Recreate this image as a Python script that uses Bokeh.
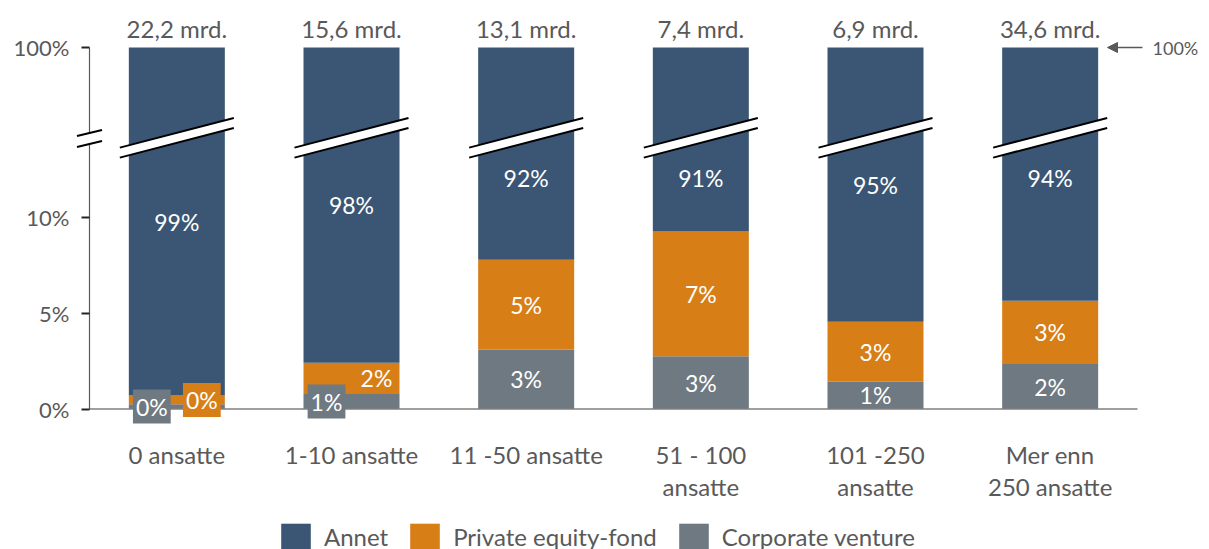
from bokeh.plotting import figure
from bokeh.models import (ColumnDataSource, FixedTicker, Legend, LegendItem, LinearAxis,
                          Arrow, NormalHead, Label, PolyAnnotation, Range1d)
from bokeh.core.properties import value
from bokeh.embed import file_html
from bokeh.resources import INLINE

# ---------------- data ----------------
categories = ["0 ansatte", "1-10 ansatte", "11 -50 ansatte",
              "51 - 100 ansatte", "101 -250 ansatte", "Mer enn 250 ansatte"]
category_labels = ["0 ansatte", "1-10 ansatte", "11 -50 ansatte",
                   "51 - 100\nansatte", "101 -250\nansatte", "Mer enn\n250 ansatte"]
totals = ["22,2 mrd.", "15,6 mrd.", "13,1 mrd.", "7,4 mrd.", "6,9 mrd.", "34,6 mrd."]
corporate_venture = [0.25, 0.78, 3.10, 2.75, 1.42, 2.34]   # % of total
private_equity = [0.45, 1.63, 4.67, 6.50, 3.13, 3.30]      # % of total
annet = [99.30, 97.59, 92.23, 90.75, 95.45, 94.36]          # % of total
series_names = ["Annet", "Private equity-fond", "Corporate venture"]
y_ticks = [0, 5, 10, 100]
y_tick_labels = ["0%", "5%", "10%", "100%"]

# ---------------- style / layout ----------------
W, H = 1209, 549
AXIS_X_PX, PLOT_R_PX = 89, 1137
Y0_PX, TOP_PX, PX_PER_UNIT = 408.5, 47.0, 19.2
n = len(categories)
CAT_W = (PLOT_R_PX - AXIS_X_PX) / n
TOP = (Y0_PX - TOP_PX) / PX_PER_UNIT          # display position of 100 %
LINEAR_MAX = 12.0                              # values above the break are shown at TOP
C_ANNET, C_PE, C_CV = "#3A5674", "#D77E17", "#6F7982"
TXT = "#595959"
FONT = "Lato"
BAR_W = 96 / CAT_W


def disp(v):
    """broken axis: linear up to the break, 100 % drawn at TOP"""
    return v if v <= LINEAR_MAX else TOP


def pct(v):
    return "%d%%" % int(v + 0.5)


xc = [i + 0.5 for i in range(n)]              # category centres on the x scale
cv_top = [disp(c) for c in corporate_venture]
pe_top = [disp(c + p) for c, p in zip(corporate_venture, private_equity)]
an_top = [disp(c + p + a) for c, p, a in zip(corporate_venture, private_equity, annet)]

src = ColumnDataSource(dict(x=xc, cat=categories, cv0=[0] * n, cv1=cv_top, pe1=pe_top, an1=an_top))

x_range = Range1d(-AXIS_X_PX / CAT_W, n + (W - PLOT_R_PX) / CAT_W)
y_range = Range1d(-(H - Y0_PX) / PX_PER_UNIT, Y0_PX / PX_PER_UNIT)

p = figure(x_range=x_range, y_range=y_range, width=W, height=H,
           output_backend="svg", toolbar_location=None,
           min_border_left=0, min_border_right=0, min_border_top=0, min_border_bottom=0)
p.outline_line_color = None
p.xgrid.visible = False
p.ygrid.visible = False
p.background_fill_color = "white"
p.border_fill_color = "white"

r_cv = p.vbar(x="x", bottom="cv0", top="cv1", width=BAR_W, source=src, fill_color=C_CV, line_color=None)
r_pe = p.vbar(x="x", bottom="cv1", top="pe1", width=BAR_W, source=src, fill_color=C_PE, line_color=None)
r_an = p.vbar(x="x", bottom="pe1", top="an1", width=BAR_W, source=src, fill_color=C_ANNET, line_color=None)

# baseline (drawn under the labels)
p.segment(x0=[0], y0=[0], x1=[n], y1=[0], line_color="#7F7F7F", line_width=1.5)

# break bands over the bars
BRK = (Y0_PX - 137.3) / PX_PER_UNIT
HL = 57 / CAT_W
RISE = 14.8 / PX_PER_UNIT
HT = 5.0 / PX_PER_UNIT
bxs, bys, lxs, lys = [], [], [], []
for c in xc:
    bxs.append([c - HL, c + HL, c + HL, c - HL])
    bys.append([BRK - RISE - HT, BRK + RISE - HT, BRK + RISE + HT, BRK - RISE + HT])
    lxs += [[c - HL, c + HL], [c - HL, c + HL]]
    lys += [[BRK - RISE - HT, BRK + RISE - HT], [BRK - RISE + HT, BRK + RISE + HT]]
p.patches(bxs, bys, fill_color="white", line_color=None)
p.multi_line(lxs, lys, line_color="black", line_width=2)

# segment labels
lab_x, lab_y, lab_t, lab_dx, lab_bg = [], [], [], [], []
for i in range(n):
    lab_x.append(xc[i]); lab_y.append(cv_top[i] / 2); lab_t.append(pct(corporate_venture[i]))
    lab_dx.append(-25 if corporate_venture[i] < 1 else 0)
    lab_bg.append(C_CV if corporate_venture[i] < 1 else None)

    lab_x.append(xc[i]); lab_y.append((cv_top[i] + pe_top[i]) / 2); lab_t.append(pct(private_equity[i]))
    lab_dx.append(25 if private_equity[i] < 2 else 0)
    lab_bg.append(C_PE if private_equity[i] < 1 else None)

    lab_x.append(xc[i]); lab_y.append(min((pe_top[i] + an_top[i]) / 2, (Y0_PX - 177) / PX_PER_UNIT))
    lab_t.append(pct(annet[i])); lab_dx.append(0); lab_bg.append(None)

lsrc = ColumnDataSource(dict(x=lab_x, y=lab_y, t=lab_t, dx=lab_dx, bg=lab_bg))
p.text(x="x", y="y", text="t", x_offset="dx", source=lsrc, text_color="white",
       text_align="center", text_baseline="middle", text_font=value(FONT),
       text_font_size="23px", background_fill_color="bg", padding=3)

# totals above bars
p.text(x=xc, y=[TOP + 19 / PX_PER_UNIT] * n, text=totals, text_color=TXT,
       text_align="center", text_baseline="middle", text_font=value(FONT), text_font_size="24px")

# x axes: two label rows, anchored at y = 0
first_lines = [lbl.split("\n")[0] for lbl in category_labels]
second_lines = [lbl.split("\n")[1] if "\n" in lbl else " " for lbl in category_labels]


def style_xaxis(ax, labels, standoff):
    ax.ticker = FixedTicker(ticks=xc)
    ax.major_label_overrides = dict(zip(xc, labels))
    ax.fixed_location = 0
    ax.axis_line_color = None
    ax.major_tick_line_color = None
    ax.minor_tick_line_color = None
    ax.major_label_text_font = FONT
    ax.major_label_text_font_size = "24px"
    ax.major_label_text_color = TXT
    ax.major_label_standoff = standoff


style_xaxis(p.xaxis[0], first_lines, 25)
ax2 = LinearAxis()
style_xaxis(ax2, second_lines, 57)
p.add_layout(ax2, "below")

tick_pos = [disp(t) for t in y_ticks]
yax = p.yaxis[0]
yax.ticker = FixedTicker(ticks=tick_pos)
yax.major_label_overrides = dict(zip(tick_pos, y_tick_labels))
yax.fixed_location = 0
yax.bounds = (0, TOP)
yax.axis_line_color = "#595959"
yax.axis_line_width = 1.2
yax.major_tick_line_color = "#262626"
yax.major_tick_line_width = 2
yax.major_tick_out = 8
yax.major_tick_in = 0
yax.minor_tick_line_color = None
yax.major_label_text_font = FONT
yax.major_label_text_font_size = "22px"
yax.major_label_text_color = TXT
yax.major_label_standoff = 12

# axis break mark
AX_HL = 12.5 / CAT_W
AX_RISE = 3.0 / PX_PER_UNIT
AX_BRK = (Y0_PX - 138.0) / PX_PER_UNIT
AX_HT = 5.5 / PX_PER_UNIT
p.add_layout(PolyAnnotation(xs=[-AX_HL, AX_HL, AX_HL, -AX_HL],
                            ys=[AX_BRK - AX_RISE - AX_HT, AX_BRK + AX_RISE - AX_HT,
                                AX_BRK + AX_RISE + AX_HT, AX_BRK - AX_RISE + AX_HT],
                            fill_color="white", fill_alpha=1, line_color=None))
for s in (-1, 1):
    p.add_layout(Arrow(start=None, end=None, x_start=-AX_HL, x_end=AX_HL,
                       y_start=AX_BRK - AX_RISE + s * AX_HT, y_end=AX_BRK + AX_RISE + s * AX_HT,
                       line_color="black", line_width=2))

# right "<- 100%" marker
p.add_layout(Arrow(end=NormalHead(size=10, fill_color=TXT, line_color=TXT),
                   x_start=n + 5 / CAT_W, x_end=n - 30 / CAT_W, y_start=TOP, y_end=TOP,
                   line_color=TXT, line_width=1.5))
p.add_layout(Label(x=n + 15 / CAT_W, y=TOP, text="100%", text_font=FONT, text_font_size="18px",
                   text_color=TXT, text_baseline="middle", text_align="left"))

# legend
legend = Legend(items=[LegendItem(label=series_names[0], renderers=[r_an]),
                       LegendItem(label=series_names[1], renderers=[r_pe]),
                       LegendItem(label=series_names[2], renderers=[r_cv])],
                orientation="horizontal", location=(277, H - 520 - 32),
                glyph_width=37, glyph_height=32, label_standoff=10, spacing=18,
                padding=0, margin=0, border_line_color=None, background_fill_alpha=0,
                label_text_font=FONT, label_text_font_size="24px", label_text_color=TXT)
p.add_layout(legend)

open("out.html", "w").write(file_html(p, INLINE))
